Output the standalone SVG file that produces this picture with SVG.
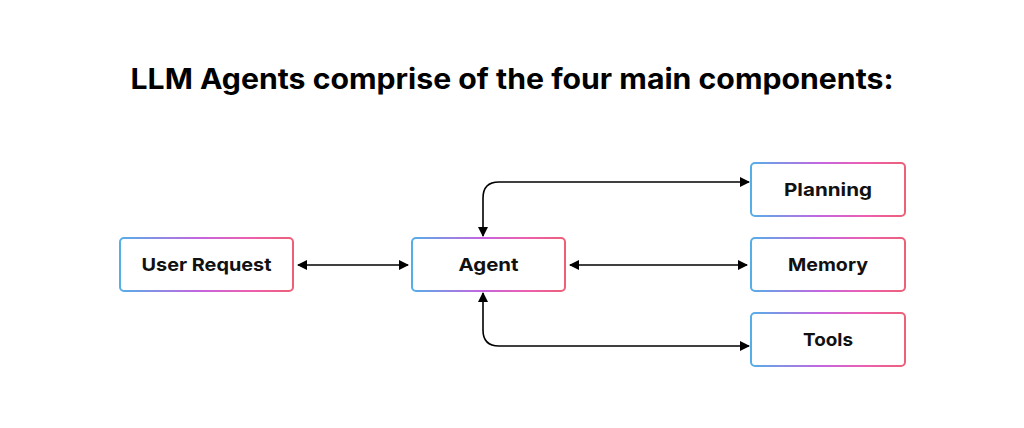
<svg xmlns="http://www.w3.org/2000/svg" width="1024" height="428" viewBox="0 0 1024 428">
<defs>
<linearGradient id="g" x1="0" y1="0" x2="1" y2="0" gradientUnits="objectBoundingBox">
<stop offset="0" stop-color="#56aee8"/><stop offset="0.45" stop-color="#c465e0"/><stop offset="0.75" stop-color="#ec5fae"/><stop offset="1" stop-color="#ec6078"/>
</linearGradient>
<marker id="a" viewBox="0 0 10 10" refX="9" refY="5" markerWidth="10" markerHeight="10" markerUnits="userSpaceOnUse" orient="auto-start-reverse"><path d="M0,0 L10,5 L0,10 z" fill="#000"/></marker>
<style>
.n rect{fill:#fff;stroke:url(#g);stroke-width:2}
.n text{font-family:Inter,"Liberation Sans",sans-serif;font-weight:700;font-size:18px;text-anchor:middle;fill:#111}
.c path{fill:none;stroke:#000;stroke-width:1.6;marker-start:url(#a);marker-end:url(#a)}
</style>
</defs>
<rect width="1024" height="428" fill="#fff"/>
<text x="512" y="89" font-family="Inter,'Liberation Sans',sans-serif" font-weight="700" font-size="28" text-anchor="middle" textLength="763" lengthAdjust="spacingAndGlyphs" fill="#000">LLM Agents comprise of the four main components:</text>
<g class="c">
<path d="M298,265 H408"/>
<path d="M570,265 H747"/>
<path d="M483,236 V198 Q483,182 499,182 H749"/>
<path d="M483,293 V330 Q483,346 499,346 H749"/>
</g>
<g id="user" class="n"><rect x="120" y="238" width="173" height="53" rx="4"/><text x="206.5" y="271" textLength="130" lengthAdjust="spacingAndGlyphs">User Request</text></g>
<g id="agent" class="n"><rect x="412" y="238" width="153" height="53" rx="4"/><text x="488.5" y="271" textLength="60" lengthAdjust="spacingAndGlyphs">Agent</text></g>
<g id="planning" class="n"><rect x="751" y="163" width="154" height="53" rx="4"/><text x="828" y="196" textLength="88" lengthAdjust="spacingAndGlyphs">Planning</text></g>
<g id="memory" class="n"><rect x="751" y="238" width="154" height="53" rx="4"/><text x="828" y="271" textLength="80" lengthAdjust="spacingAndGlyphs">Memory</text></g>
<g id="tools" class="n"><rect x="751" y="313" width="154" height="53" rx="4"/><text x="828" y="346" textLength="50" lengthAdjust="spacingAndGlyphs">Tools</text></g>
</svg>
